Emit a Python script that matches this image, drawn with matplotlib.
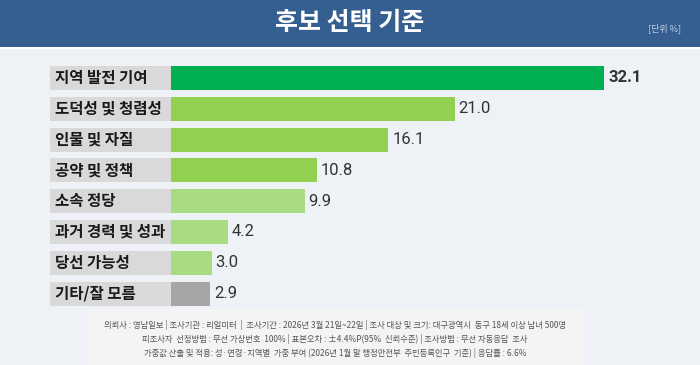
import matplotlib
matplotlib.use("Agg")
import matplotlib.pyplot as plt
from matplotlib.patches import Rectangle

categories = ["지역 발전 기여", "도덕성 및 청렴성", "인물 및 자질", "공약 및 정책",
              "소속 정당", "과거 경력 및 성과", "당선 가능성", "기타/잘 모름"]
values = [32.1, 21.0, 16.1, 10.8, 9.9, 4.2, 3.0, 2.9]
colors = ["#00b050", "#92d050", "#92d050", "#92d050",
          "#a9db80", "#a9db80", "#a9db80", "#a6a6a6"]
title = "후보 선택 기준"
unit = "[단위 %]"
footer = [
    "의뢰사 : 영남일보 | 조사기관 : 리얼미터  |  조사기간 : 2026년 3월 21일~22일 | 조사 대상 및 크기: 대구광역시  동구 18세 이상 남녀 500명",
    "피조사자  선정방법 : 무선 가상번호  100% | 표본오차 : ±4.4%P(95%  신뢰수준) | 조사방법 : 무선 자동응답  조사",
    "가중값 산출 및 적용: 성·연령·지역별  가중 부여 (2026년 1월 말 행정안전부  주민등록인구  기준) | 응답률 : 6.6%",
]

KR = ["Noto Sans CJK KR", "DejaVu Sans"]
W, H = 700, 365
fig = plt.figure(figsize=(W / 100, H / 100), dpi=100)
fig.patch.set_facecolor("#eef2f6")

# header
fig.add_artist(Rectangle((0, 1 - 47 / H), 1, 47 / H, transform=fig.transFigure,
                         facecolor="#365f91", edgecolor="none"))
fig.add_artist(Rectangle((0, 1 - 49 / H), 1, 2 / H, transform=fig.transFigure,
                         facecolor="#ffffff", edgecolor="none"))
fig.text(0.5, 1 - 23 / H, title, ha="center", va="center", color="white",
         fontsize=18, fontweight="bold", family=KR)
fig.text(665 / W, 1 - 28 / H, unit, ha="center", va="center", color="#c5d2e3",
         fontsize=6.5, family=KR)

# footer box
fig.add_artist(Rectangle((88 / W, 0), (583 - 88) / W, (H - 309) / H,
                         transform=fig.transFigure, facecolor="#f4f4f5",
                         edgecolor="none"))
for i, line in enumerate(footer):
    fig.text(335 / W, 1 - (324.5 + i * 14.5) / H, line, ha="center", va="center",
             color="#555555", fontsize=6.0, family=KR)

# bars
px_per_unit = 13.5
x0_px, x1_px = 50, 660
bar_start = 171
xmin = (x0_px - bar_start) / px_per_unit
xmax = (x1_px - bar_start) / px_per_unit
row0, pitch = 78.0, 30.8
top_px = row0 - pitch / 2
bot_px = row0 + 7.5 * pitch
ax = fig.add_axes([x0_px / W, 1 - bot_px / H, (x1_px - x0_px) / W, (bot_px - top_px) / H])
ax.set_xlim(xmin, xmax)
ax.set_ylim(len(values) - 0.5, -0.5)
ax.axis("off")

ys = list(range(len(values)))
ax.barh(ys, [-xmin] * len(values), left=xmin, height=0.78, color="#d9d9d9",
        edgecolor="none")
ax.barh(ys, values, left=0, height=0.78, color=colors, edgecolor="none")
for y, cat, v in zip(ys, categories, values):
    ax.text(xmin + 5 / px_per_unit, y, cat, ha="left", va="center",
            fontsize=11.2, fontweight="bold", color="#1a1a1a", family=KR)
    ax.text(v + 4 / px_per_unit, y, f"{v:.1f}", ha="left", va="center",
            fontsize=12, color="#333333", family=["Roboto", "DejaVu Sans"],
            fontweight="bold" if y == 0 else "normal")

fig.savefig("out.png", dpi=100, facecolor=fig.get_facecolor())
